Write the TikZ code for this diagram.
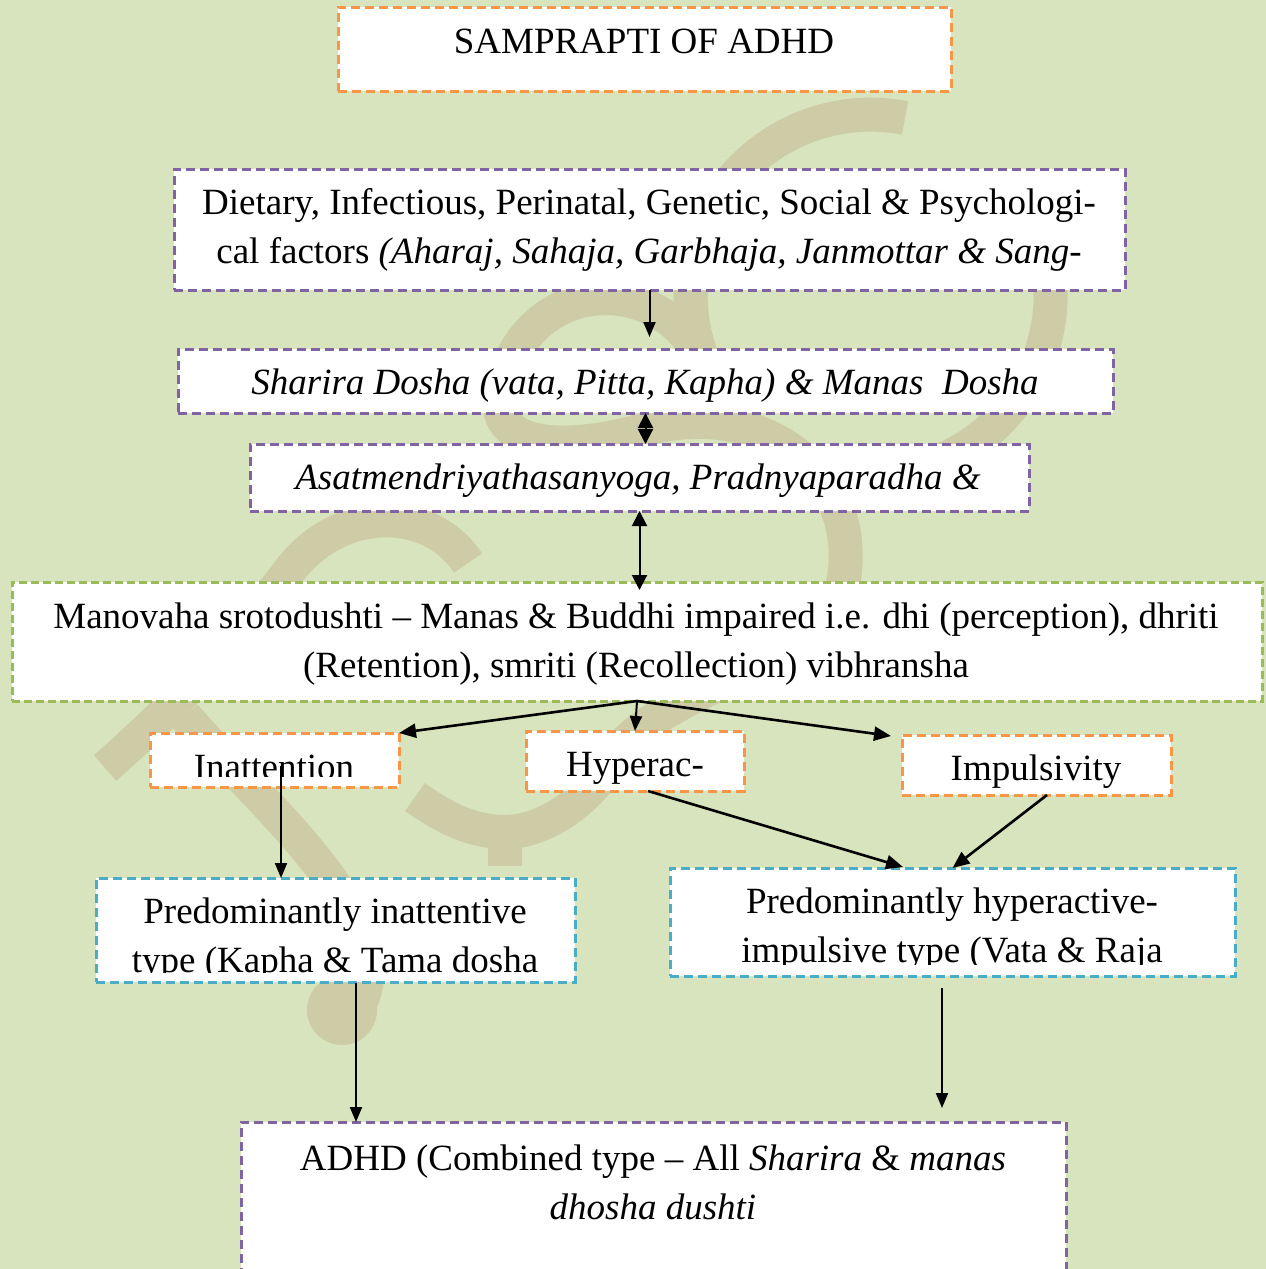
\documentclass[tikz,border=0pt]{standalone}
\usepackage{fontspec}
\setmainfont{Liberation Serif}
\usetikzlibrary{arrows.meta,calc}

\definecolor{bgolive}{HTML}{D7E4BD}
\definecolor{wmtan}{RGB}{205,204,166}
\definecolor{dashorange}{HTML}{F79646}
\definecolor{dashpurple}{HTML}{8064A2}
\definecolor{dashgreen}{HTML}{9BBB59}
\definecolor{dashcyan}{HTML}{4BACC6}

\tikzset{every picture/.style={line width=0.75pt}}
\tikzset{
  dbox/.style={draw, fill=white, line width=3pt, dash pattern=on 9pt off 5pt, inner sep=0pt, outer sep=0pt},
  obox/.style={dbox, draw=dashorange},
  pbox/.style={dbox, draw=dashpurple},
  gbox/.style={dbox, draw=dashgreen, dash pattern=on 8pt off 4pt},
  cbox/.style={dbox, draw=dashcyan},
  txt/.style={font=\fontsize{37pt}{49pt}\selectfont, align=center, inner sep=0pt},
  wm/.style={draw=wmtan, line width=34pt},
  conn/.style={-{Triangle[length=15pt,width=12pt]}, line width=2pt},
  dconn/.style={{Triangle[length=15pt,width=15pt]}-{Triangle[length=15pt,width=15pt]}, line width=2pt},
  bconn/.style={-{Triangle[length=17pt,width=14pt]}, line width=2.6pt},
}

\begin{document}
\begin{tikzpicture}[x=1pt,y=1pt,yscale=-1,xscale=1]
\useasboundingbox (0,0) rectangle (1266,1269);
\clip (0,0) rectangle (1266,1269);
\fill[bgolive] (0,0) rectangle (1266,1269);

%Watermark
\draw[wm] (905,118) arc[start angle=-79, end angle=-385, radius=180];
\draw[wm] (692,343) .. controls (640,270) and (520,285) .. (500,395) .. controls (492,450) and (570,452) .. (650,428) .. controls (760,400) and (855,470) .. (845,570) .. controls (840,660) and (650,690) .. (612,760) .. controls (590,800) and (545,832) .. (505,832) .. controls (470,832) and (440,815) .. (415,797);
\draw[wm] (505,820) -- (505,866);
\draw[wm] (468,563) .. controls (430,505) and (340,505) .. (290,570) .. controls (230,650) and (160,720) .. (105,768);
\draw[wm] (185,716) .. controls (250,790) and (330,860) .. (360,930) .. controls (375,975) and (365,1010) .. (345,1015);
\fill[wmtan] (342,1010) circle (35);

%Shape: Rectangle
\node[obox, minimum width=613pt, minimum height=84pt] (title) at (644.5,49) {};
%Shape: Rectangle
\node[pbox, minimum width=951pt, minimum height=121pt] (diet) at (649.5,229.5) {};
%Shape: Rectangle
\node[pbox, minimum width=935pt, minimum height=64pt] (shar) at (645.5,381) {};
%Shape: Rectangle
\node[pbox, minimum width=779pt, minimum height=67pt] (asat) at (639.5,477.5) {};
%Shape: Rectangle
\node[gbox, minimum width=1250pt, minimum height=119pt] (mano) at (637,641.5) {};
%Shape: Rectangle
\node[obox, minimum width=249pt, minimum height=54pt] (inatt) at (274.5,760) {};
%Shape: Rectangle
\node[obox, minimum width=218pt, minimum height=60pt] (hyper) at (635,761) {};
%Shape: Rectangle
\node[obox, minimum width=269pt, minimum height=60pt] (impuls) at (1036.5,765) {};
%Shape: Rectangle
\node[cbox, minimum width=479pt, minimum height=104pt] (pinatt) at (335.5,930) {};
%Shape: Rectangle
\node[cbox, minimum width=565pt, minimum height=108pt] (phyper) at (952.5,922) {};
%Shape: Rectangle
\node[pbox, minimum width=825pt, minimum height=178pt] (adhd) at (653.5,1211) {};

% Text Node
\node[txt] (titletxt) at (644,41) {SAMPRAPTI OF ADHD};
% Text Node
\node[txt] (diettxt) at (649,230) {Dietary, Infectious, Perinatal, Genetic, Social \& Psychologi-\\cal factors \textit{(Aharaj, Sahaja, Garbhaja, Janmottar \& Sang-}};
% Text Node
\node[txt] (shartxt) at (645,386) {\textit{Sharira Dosha (vata, Pitta, Kapha) \& Manas\ \ Dosha}};
% Text Node
\node[txt] (asattxt) at (638,481) {\textit{Asatmendriyathasanyoga, Pradnyaparadha \&}};
% Text Node
\node[txt] (manotxt) at (636,644) {Manovaha srotodushti -- Manas \& Buddhi impaired i.e. dhi (perception), dhriti\\(Retention), smriti (Recollection) vibhransha};
% Text Node
\begin{scope}
\clip (inatt.north west) rectangle ($(inatt.south east)+(0,-11)$);
\node[txt, anchor=base] (inatttxt) at (274,779) {Inattention};
\end{scope}
% Text Node
\node[txt] (hypertxt) at (635,768) {Hyperac-};
% Text Node
\node[txt] (impulstxt) at (1036,772) {Impulsivity};
% Text Node
\begin{scope}
\clip (pinatt.north west) rectangle ($(pinatt.south east)+(0,-10)$);
\node[txt] (pinatttxt) at (335,939) {Predominantly inattentive\\type (Kapha \& Tama dosha};
\end{scope}
% Text Node
\begin{scope}
\clip (phyper.north west) rectangle ($(phyper.south east)+(0,-12)$);
\node[txt] (phypertxt) at (952,929) {Predominantly hyperactive-\\impulsive type (Vata \& Raja};
\end{scope}
% Text Node
\node[txt] (adhdtxt) at (653,1182) {ADHD (Combined type -- All \textit{Sharira} \& \textit{manas}\\\textit{dhosha dushti}};

%Straight Lines
\coordinate (dietend) at (649.5,337);
\coordinate (manotop) at (639.5,590);
\coordinate (impulsend) at (891,736);
\coordinate (inattstart) at (281,766);
\coordinate (hyperstart) at (648,791);
\coordinate (phyperend) at (903,867);
\coordinate (impulsstart) at (1047,795);
\coordinate (pinattstart) at (356,983);
\coordinate (phyperstart) at (942,988);
\coordinate (adhdend) at (942,1108);

\draw[conn] (diet.south) -- (dietend);
\draw[dconn] (shar.south) -- (shar.south |- asat.north);
\draw[dconn] (asat.south) -- (manotop);
\draw[bconn] (mano.south) -- (inatt.north east);
\draw[conn] (mano.south) -- (hyper.north);
\draw[bconn] (mano.south) -- (impulsend);
\draw[conn] (inattstart) -- (inattstart |- pinatt.north);
\draw[bconn] (hyperstart) -- (phyperend);
\draw[bconn] (impulsstart) -- (phyper.north);
\draw[conn] (pinattstart) -- (pinattstart |- adhd.north);
\draw[conn] (phyperstart) -- (adhdend);

\end{tikzpicture}
\end{document}
